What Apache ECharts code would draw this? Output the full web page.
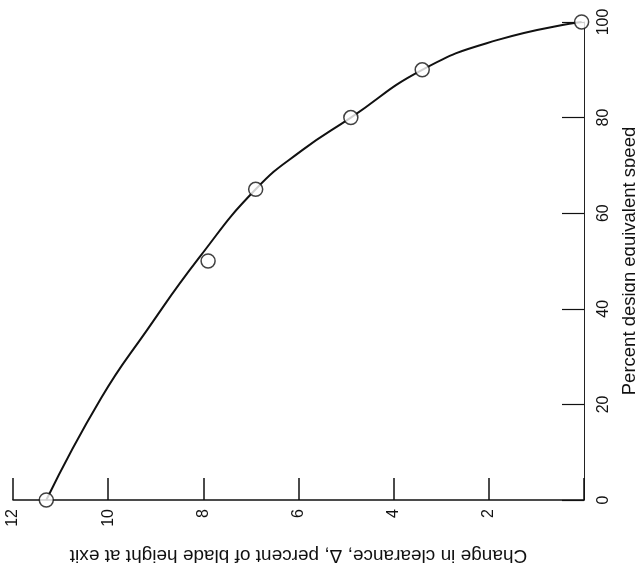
<!DOCTYPE html>
<html>
<head>
<meta charset="utf-8">
<script src="https://cdn.jsdelivr.net/npm/echarts@6/dist/echarts.min.js"></script>
<style>
html,body{margin:0;padding:0;background:#fff;}
#chart{width:635px;height:581px;}
</style>
</head>
<body>
<div id="chart"></div>
<script>
// Measured points: [change in clearance (%), percent design equivalent speed]
var measuredPoints = [
  [11.3, 0],
  [7.9, 50],
  [6.9, 65],
  [4.9, 80],
  [3.4, 90],
  [0.05, 100]
];
// Faired curve: [clearance, speed]
var curvePoints = [
  [11.3, 0],
  [10.15, 21.3],
  [9.18, 35.6],
  [8.08, 50.8],
  [6.9, 65],
  [5.92, 73.2],
  [4.9, 80],
  [3.4, 90],
  [1.83, 96.2],
  [0.05, 100]
];
var xAxisTitle = 'Change in clearance, \u0394, percent of blade height at exit';
var yAxisTitle = 'Percent design equivalent speed';

var chart = echarts.init(document.getElementById('chart'), null, {renderer: 'canvas'});
var fontFam = '"Liberation Sans", Arial, sans-serif';
var labelFam = '"Liberation Sans Narrow", "Liberation Sans", Arial, sans-serif';
chart.setOption({
  backgroundColor: '#ffffff',
  animation: false,
  grid: {left: 13, right: 51, top: 22, bottom: 81, containLabel: false, outerBoundsMode: 'none'},
  xAxis: {
    type: 'value',
    min: 0, max: 12, interval: 2,
    inverse: true,
    position: 'bottom',
    name: xAxisTitle,
    nameLocation: 'middle',
    nameRotate: 180,
    nameGap: 46,
    nameTextStyle: {color: '#111', fontSize: 19, fontFamily: fontFam},
    axisLine: {show: true, lineStyle: {color: '#111', width: 1.5}},
    axisTick: {show: true, inside: true, length: 22, lineStyle: {color: '#111', width: 1.5}},
    axisLabel: {
      rotate: 90, margin: 9, color: '#111', fontSize: 16, fontFamily: labelFam,
      formatter: function (v) { return v === 0 ? '' : String(v); }
    },
    splitLine: {show: false}
  },
  yAxis: {
    type: 'value',
    min: 0, max: 100, interval: 20,
    position: 'right',
    name: yAxisTitle,
    nameLocation: 'middle',
    nameRotate: 90,
    nameGap: 36,
    nameTextStyle: {color: '#111', fontSize: 18.5, fontFamily: fontFam},
    axisLine: {show: true, lineStyle: {color: '#222', width: 1}},
    axisTick: {show: true, inside: true, length: 22, lineStyle: {color: '#111', width: 1.2}},
    axisLabel: {rotate: 90, margin: 12, color: '#111', fontSize: 16, fontFamily: labelFam},
    splitLine: {show: false}
  },
  series: [
    {
      type: 'line',
      data: curvePoints,
      smooth: 0.5,
      showSymbol: false,
      symbol: 'none',
      lineStyle: {color: '#111', width: 2},
      z: 2
    },
    {
      type: 'scatter',
      data: measuredPoints,
      symbol: 'circle',
      symbolSize: 14,
      itemStyle: {color: '#ffffff', borderColor: '#111', borderWidth: 1.5},
      z: 3
    }
  ]
});
</script>
</body>
</html>
